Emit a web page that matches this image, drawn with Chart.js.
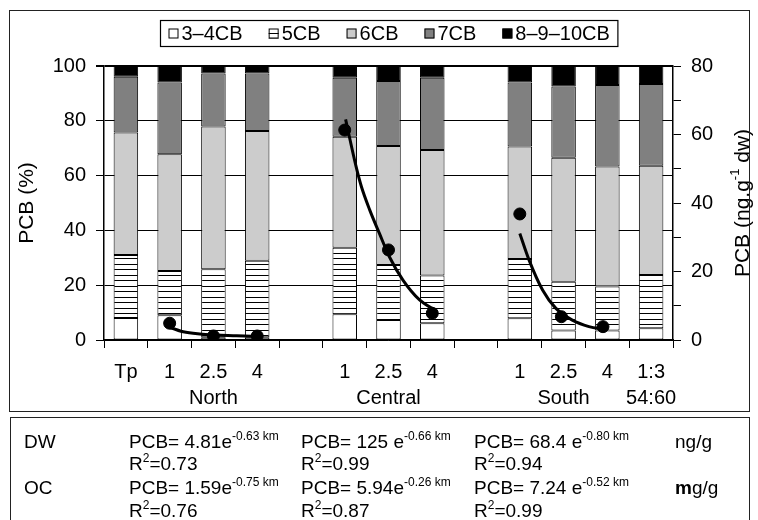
<!DOCTYPE html>
<html><head><meta charset="utf-8">
<script src="https://cdn.jsdelivr.net/npm/chart.js@4.4.1/dist/chart.umd.min.js"></script>
<style>
html,body{margin:0;padding:0;background:#fff;}
body{width:758px;height:520px;position:relative;overflow:hidden;font-family:"Liberation Sans",Arial,sans-serif;}
#c{position:absolute;left:0;top:0;}
#frame{position:absolute;left:9px;top:10px;width:741px;height:402px;border:1.5px solid #222;box-sizing:border-box;pointer-events:none;}
#tbl{position:absolute;left:10px;top:417px;width:740px;height:112px;border:1.5px solid #222;box-sizing:border-box;font-size:19px;color:#000;}
.r{position:absolute;left:0;right:0;height:23px;line-height:23px;white-space:nowrap;}
.r span{position:absolute;top:0;}
sup{font-size:12px;vertical-align:0;position:relative;top:-8px;}
</style></head>
<body>
<canvas id="c" width="758" height="412"></canvas>
<div id="frame"></div>
<div id="tbl">
  <div class="r" style="top:12px"><span style="left:13px">DW</span><span style="left:118px">PCB= 4.81e<sup>-0.63 km</sup></span><span style="left:290px">PCB= 125 e<sup>-0.66 km</sup></span><span style="left:463px">PCB= 68.4 e<sup>-0.80 km</sup></span><span style="left:664px">ng/g</span></div>
  <div class="r" style="top:34px"><span style="left:118px">R<sup>2</sup>=0.73</span><span style="left:290px">R<sup>2</sup>=0.99</span><span style="left:463px">R<sup>2</sup>=0.94</span></div>
  <div class="r" style="top:58px"><span style="left:13px">OC</span><span style="left:118px">PCB= 1.59e<sup>-0.75 km</sup></span><span style="left:290px">PCB= 5.94e<sup>-0.26 km</sup></span><span style="left:463px">PCB= 7.24 e<sup>-0.52 km</sup></span><span style="left:664px"><b>m</b>g/g</span></div>
  <div class="r" style="top:81px"><span style="left:118px">R<sup>2</sup>=0.76</span><span style="left:290px">R<sup>2</sup>=0.87</span><span style="left:463px">R<sup>2</sup>=0.99</span></div>
</div>
<script>
// ---- data ----
const categories = ['Tp','1',['2.5','North'],'4','','1',['2.5','Central'],'4','','1',['2.5','South'],'4',['1:3','54:60']];
const seriesNames = ['3–4CB','5CB','6CB','7CB','8–9–10CB'];
const pcb34   = [8.0, 9.0, 1.0, 1.0, null, 9.4, 7.3, 6.1, null, 7.9, 3.5, 3.5, 4.3];
const pcb5    = [23.0, 16.2, 24.8, 27.9, null, 24.3, 20.1, 17.4, null, 21.7, 17.8, 16.0, 19.4];
const pcb6    = [44.7, 42.6, 52.1, 47.4, null, 40.5, 43.4, 45.8, null, 41.0, 45.2, 43.8, 39.9];
const pcb7    = [20.4, 26.2, 19.4, 21.0, null, 21.5, 23.7, 26.4, null, 23.4, 26.0, 29.8, 29.8];
const pcb810  = [3.9, 6.0, 2.7, 2.7, null, 4.3, 5.5, 4.3, null, 6.0, 7.5, 6.9, 6.6];
// total PCB (ng/g dw, right axis) measured points; x = category index
const dotX = [1, 2, 3, 5, 6, 7, 9, 9.95, 10.9];
const dotY = [4.9, 1.17, 1.17, 61.3, 26.3, 7.8, 36.8, 6.8, 3.9];
// fitted exponential curves, traced points; x = category index
const northCurveX = [0.91, 1.31, 1.69, 2.07, 2.53, 3.06];
const northCurveY = [4.1, 2.4, 1.75, 1.46, 1.26, 0.96];
const centralCurveX = [5.02, 5.26, 5.38, 5.57, 5.79, 6.02, 6.33, 6.71, 7.05];
const centralCurveY = [64.4, 50.6, 44.8, 38.0, 31.2, 24.3, 17.5, 11.7, 8.8];
const southCurveX = [9.0, 9.21, 9.52, 9.82, 10.2, 10.58, 10.93];
const southCurveY = [31.1, 23.4, 14.6, 9.3, 5.8, 3.9, 3.1];
const leftTicks = {min:0, max:100, step:20};
const rightTicks = {min:0, max:80, step:10, labelEvery:20};

// ---- chart ----
const FAM = '"Liberation Sans", Arial, sans-serif';
Chart.defaults.font.family = FAM;
Chart.defaults.color = '#000';
const canvas = document.getElementById('c');
const ctx = canvas.getContext('2d');

function hatchPattern(){
  const p = document.createElement('canvas');
  p.width = 8; p.height = 11;
  const g = p.getContext('2d');
  g.fillStyle = '#fff'; g.fillRect(0,0,8,11);
  g.fillStyle = '#000'; g.fillRect(0,0,8,1); g.fillRect(0,5,8,1);
  return ctx.createPattern(p,'repeat');
}
const fills = ['#ffffff', hatchPattern(), '#cccccc', '#808080', '#000000'];
const barSeries = [pcb34, pcb5, pcb6, pcb7, pcb810];

const pts = (xs, ys) => xs.map((x,i)=>({x:x, y:ys[i]}));
const curve = (label, xs, ys) => ({type:'line', label, data:pts(xs,ys), xAxisID:'xl', yAxisID:'y2',
  borderColor:'#000', borderWidth:3, pointRadius:0, tension:0.4, cubicInterpolationMode:'monotone', fill:false, order:0});

const datasets = [
  curve('North fit', northCurveX, northCurveY),
  curve('Central fit', centralCurveX, centralCurveY),
  curve('South fit', southCurveX, southCurveY),
  {type:'line', label:'PCB dw', data:pts(dotX,dotY), xAxisID:'xl', yAxisID:'y2', showLine:false,
   pointRadius:6, pointBackgroundColor:'#000', pointBorderColor:'#000', order:-1},
  ...barSeries.map((d,i)=>({type:'bar', label:seriesNames[i], data:d, backgroundColor:fills[i],
    borderColor:'#000', borderWidth:1, borderSkipped:false, xAxisID:'x', yAxisID:'y', order:1,
    stack:'pcb', grouped:false}))
];

const boxLegend = {
  id:'boxLegend',
  afterDraw(chart){
    const c = chart.ctx, ca = chart.chartArea;
    const items = chart.data.datasets.filter(d=>d.type==='bar');
    c.save();
    c.font = '20px ' + FAM;
    const mk=10, mg=3, gap=26, pad=8;
    const widths = items.map(d=>c.measureText(d.label).width);
    const total = widths.reduce((a,w)=>a+w+mk+mg,0) + gap*(items.length-1);
    const cx = (ca.left+ca.right)/2;
    const bw = total + 2*pad, bh = 26, bx = Math.round(cx-bw/2)+0.5, by = 20.5;
    c.lineWidth = 1.2; c.strokeStyle = '#000'; c.strokeRect(bx,by,bw,bh);
    let x = bx + pad; const cy = by + bh/2;
    items.forEach((d,i)=>{
      c.fillStyle = d.backgroundColor; c.fillRect(x, cy-mk/2, mk, mk);
      c.lineWidth = 1; c.strokeRect(x+0.5, cy-mk/2+0.5, mk-1, mk-1);
      x += mk + mg;
      c.fillStyle = '#000'; c.textBaseline = 'middle'; c.textAlign = 'left';
      c.fillText(d.label, x, cy+1);
      x += widths[i] + gap;
    });
    c.restore();
  }
};

const rightTitle = {
  id:'rightTitle',
  afterDraw(chart){
    const c = chart.ctx, ca = chart.chartArea;
    const parts = [['PCB (ng.g', 21, 0], ['-1', 13, -8], [' dw)', 21, 0]];
    c.save();
    c.translate(743, (ca.top+ca.bottom)/2);
    c.rotate(-Math.PI/2);
    c.fillStyle = '#000'; c.textBaseline = 'middle'; c.textAlign = 'left';
    const ws = parts.map(p=>{ c.font = p[1]+'px '+FAM; return c.measureText(p[0]).width; });
    let x = -ws.reduce((a,b)=>a+b,0)/2;
    parts.forEach((p,i)=>{ c.font = p[1]+'px '+FAM; c.fillText(p[0], x, p[2]); x += ws[i]; });
    c.restore();
  }
};

new Chart(ctx, {
  type:'bar',
  data:{labels:categories, datasets},
  options:{
    responsive:false, animation:false, devicePixelRatio:1,
    layout:{padding:{top:66,left:0,right:0,bottom:0}},
    plugins:{legend:{display:false}, tooltip:{enabled:false}},
    datasets:{bar:{categoryPercentage:1, barPercentage:0.56}},
    scales:{
      x:{stacked:true, offset:true,
         grid:{offset:true, drawOnChartArea:false, drawTicks:true, tickLength:8, color:'#000', lineWidth:1},
         border:{color:'#000', width:1.5},
         ticks:{font:{size:20, lineHeight:1.3}, color:'#000', padding:11, maxRotation:0, minRotation:0, autoSkip:false},
         afterFit(s){ s.height = 72; }},
      xl:{type:'linear', display:false, offset:false, grid:{offset:false}, bounds:'ticks', min:-0.5, max:12.5},
      y:{stacked:true, position:'left', min:leftTicks.min, max:leftTicks.max,
         ticks:{stepSize:leftTicks.step, font:{size:20}, color:'#000', padding:10},
         grid:{color:'#000', lineWidth:(c)=> c.tick && c.tick.value===leftTicks.max ? 2 : 1, tickLength:8},
         border:{color:'#000', width:1.5},
         title:{display:true, text:'PCB (%)', font:{size:21}, color:'#000', padding:{top:15,bottom:0}},
         afterFit(s){ s.width = 104; }},
      y2:{position:'right', min:rightTicks.min, max:rightTicks.max,
         ticks:{stepSize:rightTicks.step, font:{size:20}, color:'#000', padding:10,
                callback:(v)=> v % rightTicks.labelEvery === 0 ? v : ''},
         grid:{drawOnChartArea:false, tickLength:8, color:'#000', lineWidth:1},
         border:{color:'#000', width:1.5},
         afterFit(s){ s.width = 85; }}
    }
  },
  plugins:[boxLegend, rightTitle]
});
</script>
</body></html>
